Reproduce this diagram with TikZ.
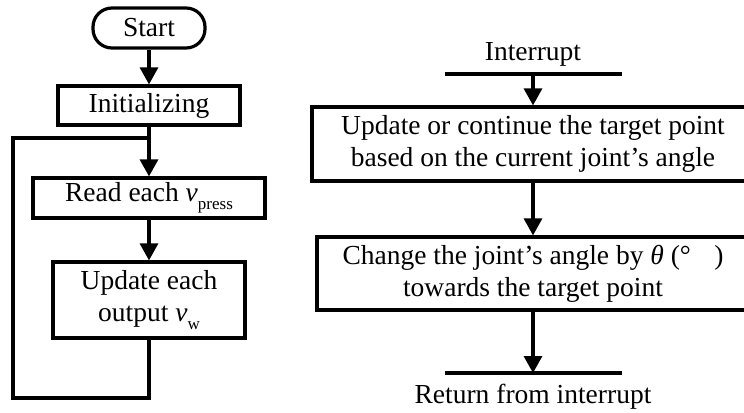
\documentclass[tikz,border=0pt]{standalone}
\usepackage{fontspec}
\setmainfont{Liberation Serif}
\usetikzlibrary{arrows.meta}
\newcommand\dgfont{\fontsize{27.5bp}{32bp}\selectfont}
\newcommand\dgsub[1]{\raisebox{-0.28em}{\fontsize{17bp}{17bp}\selectfont #1}}
\begin{document}
\begin{tikzpicture}[x=1bp,y=-1bp,
  box/.style={draw, line width=3.2bp, inner sep=0pt, align=center, font=\dgfont},
  lbl/.style={inner sep=0pt, font=\dgfont},
  flow/.style={draw, line width=3.2bp, -{Triangle[length=17bp,width=18bp]}},
  plain/.style={draw, line width=3.2bp, line join=miter}]
\path[use as bounding box] (0,0) rectangle (744,412);
\clip (0,0) rectangle (744,412);
\fill[white] (0,0) rectangle (744,412);
% left flowchart
\node[box, rounded corners=19bp, minimum width=112bp, minimum height=40bp] (start) at (149,28) {Start};
\node[box, minimum width=182bp, minimum height=39bp] (init) at (149,105.5) {Initializing};
\node[box, minimum width=232bp, minimum height=40bp] (read) at (149,198) {Read each \textit{v}\dgsub{press}};
\node[box, minimum width=192bp, minimum height=76bp] (upd) at (149,300) {Update each\\output \textit{v}\dgsub{w}};
\coordinate (join) at (149,138);
\coordinate (lb) at (149,398);
\coordinate (bl) at (13,398);
\coordinate (tl) at (13,138);
\draw[flow] (start) -- (init);
\draw[flow] (init) -- (read);
\draw[flow] (read) -- (upd);
\draw[plain] (upd.south) -- (lb) -- (bl) -- (tl) -- (join);
% right flowchart
\node[lbl, anchor=base] (intr) at (533,60) {Interrupt};
\coordinate (itop) at (533,74);
\coordinate (itl) at (445,74);
\coordinate (itr) at (622,74);
\node[box, minimum width=442bp, minimum height=74bp] (b1) at (533,144) {Update or continue the target point\\based on the current joint’s angle};
\node[box, minimum width=432bp, minimum height=73bp] (b2) at (533,273.5) {Change the joint’s angle by \textit{θ} (°\hspace{0.85em})\\towards the target point};
\coordinate (rbot) at (533,373);
\coordinate (rbl) at (445,373);
\coordinate (rbr) at (622,373);
\node[lbl, anchor=base] (ret) at (533,403) {Return from interrupt};
\draw[plain] (itl) -- (itr);
\draw[flow] (itop) -- (b1);
\draw[flow] (b1) -- (b2);
\draw[flow] (b2) -- (rbot);
\draw[plain] (rbl) -- (rbr);
\end{tikzpicture}
\end{document}
